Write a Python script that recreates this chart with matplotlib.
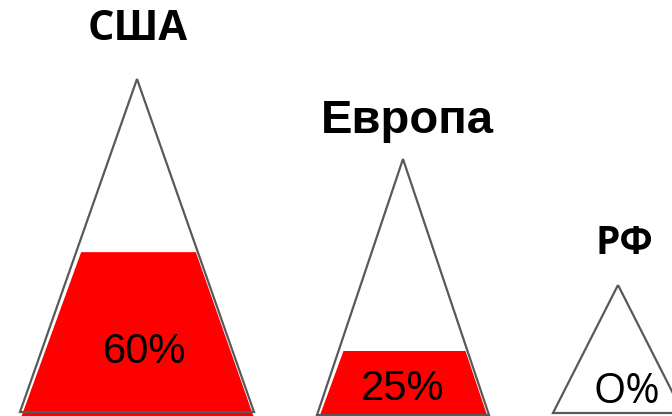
import matplotlib
matplotlib.use('Agg')
import matplotlib.pyplot as plt
from matplotlib.patches import Polygon

# ==========================================
# Данные
# ==========================================
regions = ['США', 'Европа', 'РФ']
share_labels = ['60%', '25%', 'O%']
fill_level = [0.48, 0.25, 0.0]      # доля высоты "стакана", залитая красным

# геометрия треугольников (в пикселях, ось y вниз)
apex_x = [137, 403, 618]
apex_y = [79, 159, 285]
base_y = [412, 415, 413]
half_w = [117, 86, 65]

# ==========================================
# Рисунок
# ==========================================
fig = plt.figure(figsize=(6.72, 4.16), dpi=100)
ax = fig.add_axes([0, 0, 1, 1])
ax.set_xlim(0, 672)
ax.set_ylim(416, 0)
ax.axis('off')

for i in range(len(regions)):
    ax0, ay0, by, hw = apex_x[i], apex_y[i], base_y[i], half_w[i]
    lvl = fill_level[i]
    if lvl > 0:
        top = by - lvl * (by - ay0)
        w_top = hw * (1 - lvl)
        # заливка продолжается до нижнего края картинки, чуть внутри контура
        w_bot = hw * (1 + (417 - by) / (by - ay0))
        fill = Polygon([(ax0 - w_top + 5, top), (ax0 + w_top - 2, top),
                        (ax0 + w_bot - 2, 417), (ax0 - w_bot + 3, 417)],
                       closed=True, facecolor='#ff0000', edgecolor='none', zorder=2)
        ax.add_patch(fill)
    tri = Polygon([(ax0, ay0), (ax0 + hw, by), (ax0 - hw, by)],
                  closed=True, facecolor='none', edgecolor='#595959',
                  linewidth=1.6, zorder=3, joinstyle='miter')
    ax.add_patch(tri)

# подписи регионов
ax.text(138, 29, regions[0], fontsize=30, fontweight='bold', family='Open Sans',
        ha='center', va='center')
ax.text(407, 121, regions[1], fontsize=34, fontweight='bold', family='Liberation Sans',
        ha='center', va='center')
ax.text(624, 244, regions[2], fontsize=28, fontweight='bold', family='Open Sans',
        ha='center', va='center')

# проценты
ax.text(145, 352, share_labels[0], fontsize=30, family='Liberation Sans',
        ha='center', va='center', zorder=4)
ax.text(403, 389, share_labels[1], fontsize=30, family='Liberation Sans',
        ha='center', va='center', zorder=4)
ax.text(627, 392, share_labels[2], fontsize=30, family='Open Sans',
        ha='center', va='center', zorder=4)

fig.savefig('out.png', dpi=100)
